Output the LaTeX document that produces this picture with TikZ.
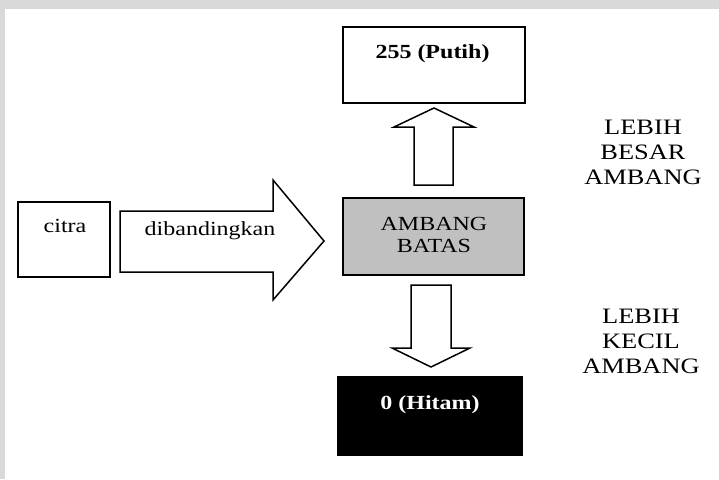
\documentclass[tikz,border=0pt]{standalone}
\usepackage{fontspec}
\setmainfont{Liberation Serif}[FakeStretch=1.2]
\usepackage{tikz}
\usetikzlibrary{positioning}
\definecolor{abubingkai}{RGB}{217,217,217}
\definecolor{abukotak}{RGB}{192,192,192}
\tikzset{
  kotak/.style={shape=rectangle,draw=black,line width=1.5pt,inner sep=0pt},
  blok/.style={draw=black,line width=1.5pt,fill=white,line join=miter},
  teks/.style={font=\fontsize{20}{22}\selectfont,align=center,inner sep=0pt},
  keterangan/.style={font=\fontsize{22}{25}\selectfont,align=center,inner sep=0pt}
}

\begin{document}
\begin{tikzpicture}[x=1pt,y=-1pt]
        %frame
        \fill[abubingkai] (0,0) rectangle (719,479);
        \fill[white] (5,9) rectangle (719,479);
        \useasboundingbox (0,0) rectangle (719,479);
        %citra
        \node[kotak,minimum width=92,minimum height=75] (citra) at (64,239.5) {};
        \node[teks,anchor=base] (tcitra) at (65,232) {citra};
        %ambang batas
        \node[kotak,fill=abukotak,minimum width=181,minimum height=77] (ambang) at (433.5,236.5) {};
        \node[teks,anchor=north] (tambang) at (434,217) {AMBANG\\BATAS};
        %putih
        \node[kotak,minimum width=182,minimum height=76] (putih) at (434,65) {};
        \node[teks,anchor=base,font=\fontsize{20}{22}\selectfont\bfseries] (tputih) at (432.5,58) {255 (Putih)};
        %hitam
        \node[kotak,fill=black,minimum width=184,minimum height=78] (hitam) at (430,416) {};
        \node[teks,anchor=base,text=white,font=\fontsize{20}{22}\selectfont\bfseries] (thitam) at (430,409) {0 (Hitam)};
        %block arrows
        \draw[blok] (120,211) -- (273,211) -- (273,180) -- (324,241) -- (273,300) -- (273,272) -- (120,272) -- cycle;
        \node[teks,anchor=base] (tbanding) at (210,235) {dibandingkan};
        \draw[blok] (414,185) -- (414,127) -- (394,127) -- (434,108) -- (474,127) -- (453,127) -- (453,185) -- cycle;
        \draw[blok] (411,285) -- (451,285) -- (451,348) -- (470,348) -- (431,367) -- (392,348) -- (411,348) -- cycle;
        %side labels
        \node[keterangan,anchor=north] (besar) at (643,119.5) {LEBIH\\BESAR\\AMBANG};
        \node[keterangan,anchor=north] (kecil) at (641,308.5) {LEBIH\\KECIL\\AMBANG};
\end{tikzpicture}
\end{document}
